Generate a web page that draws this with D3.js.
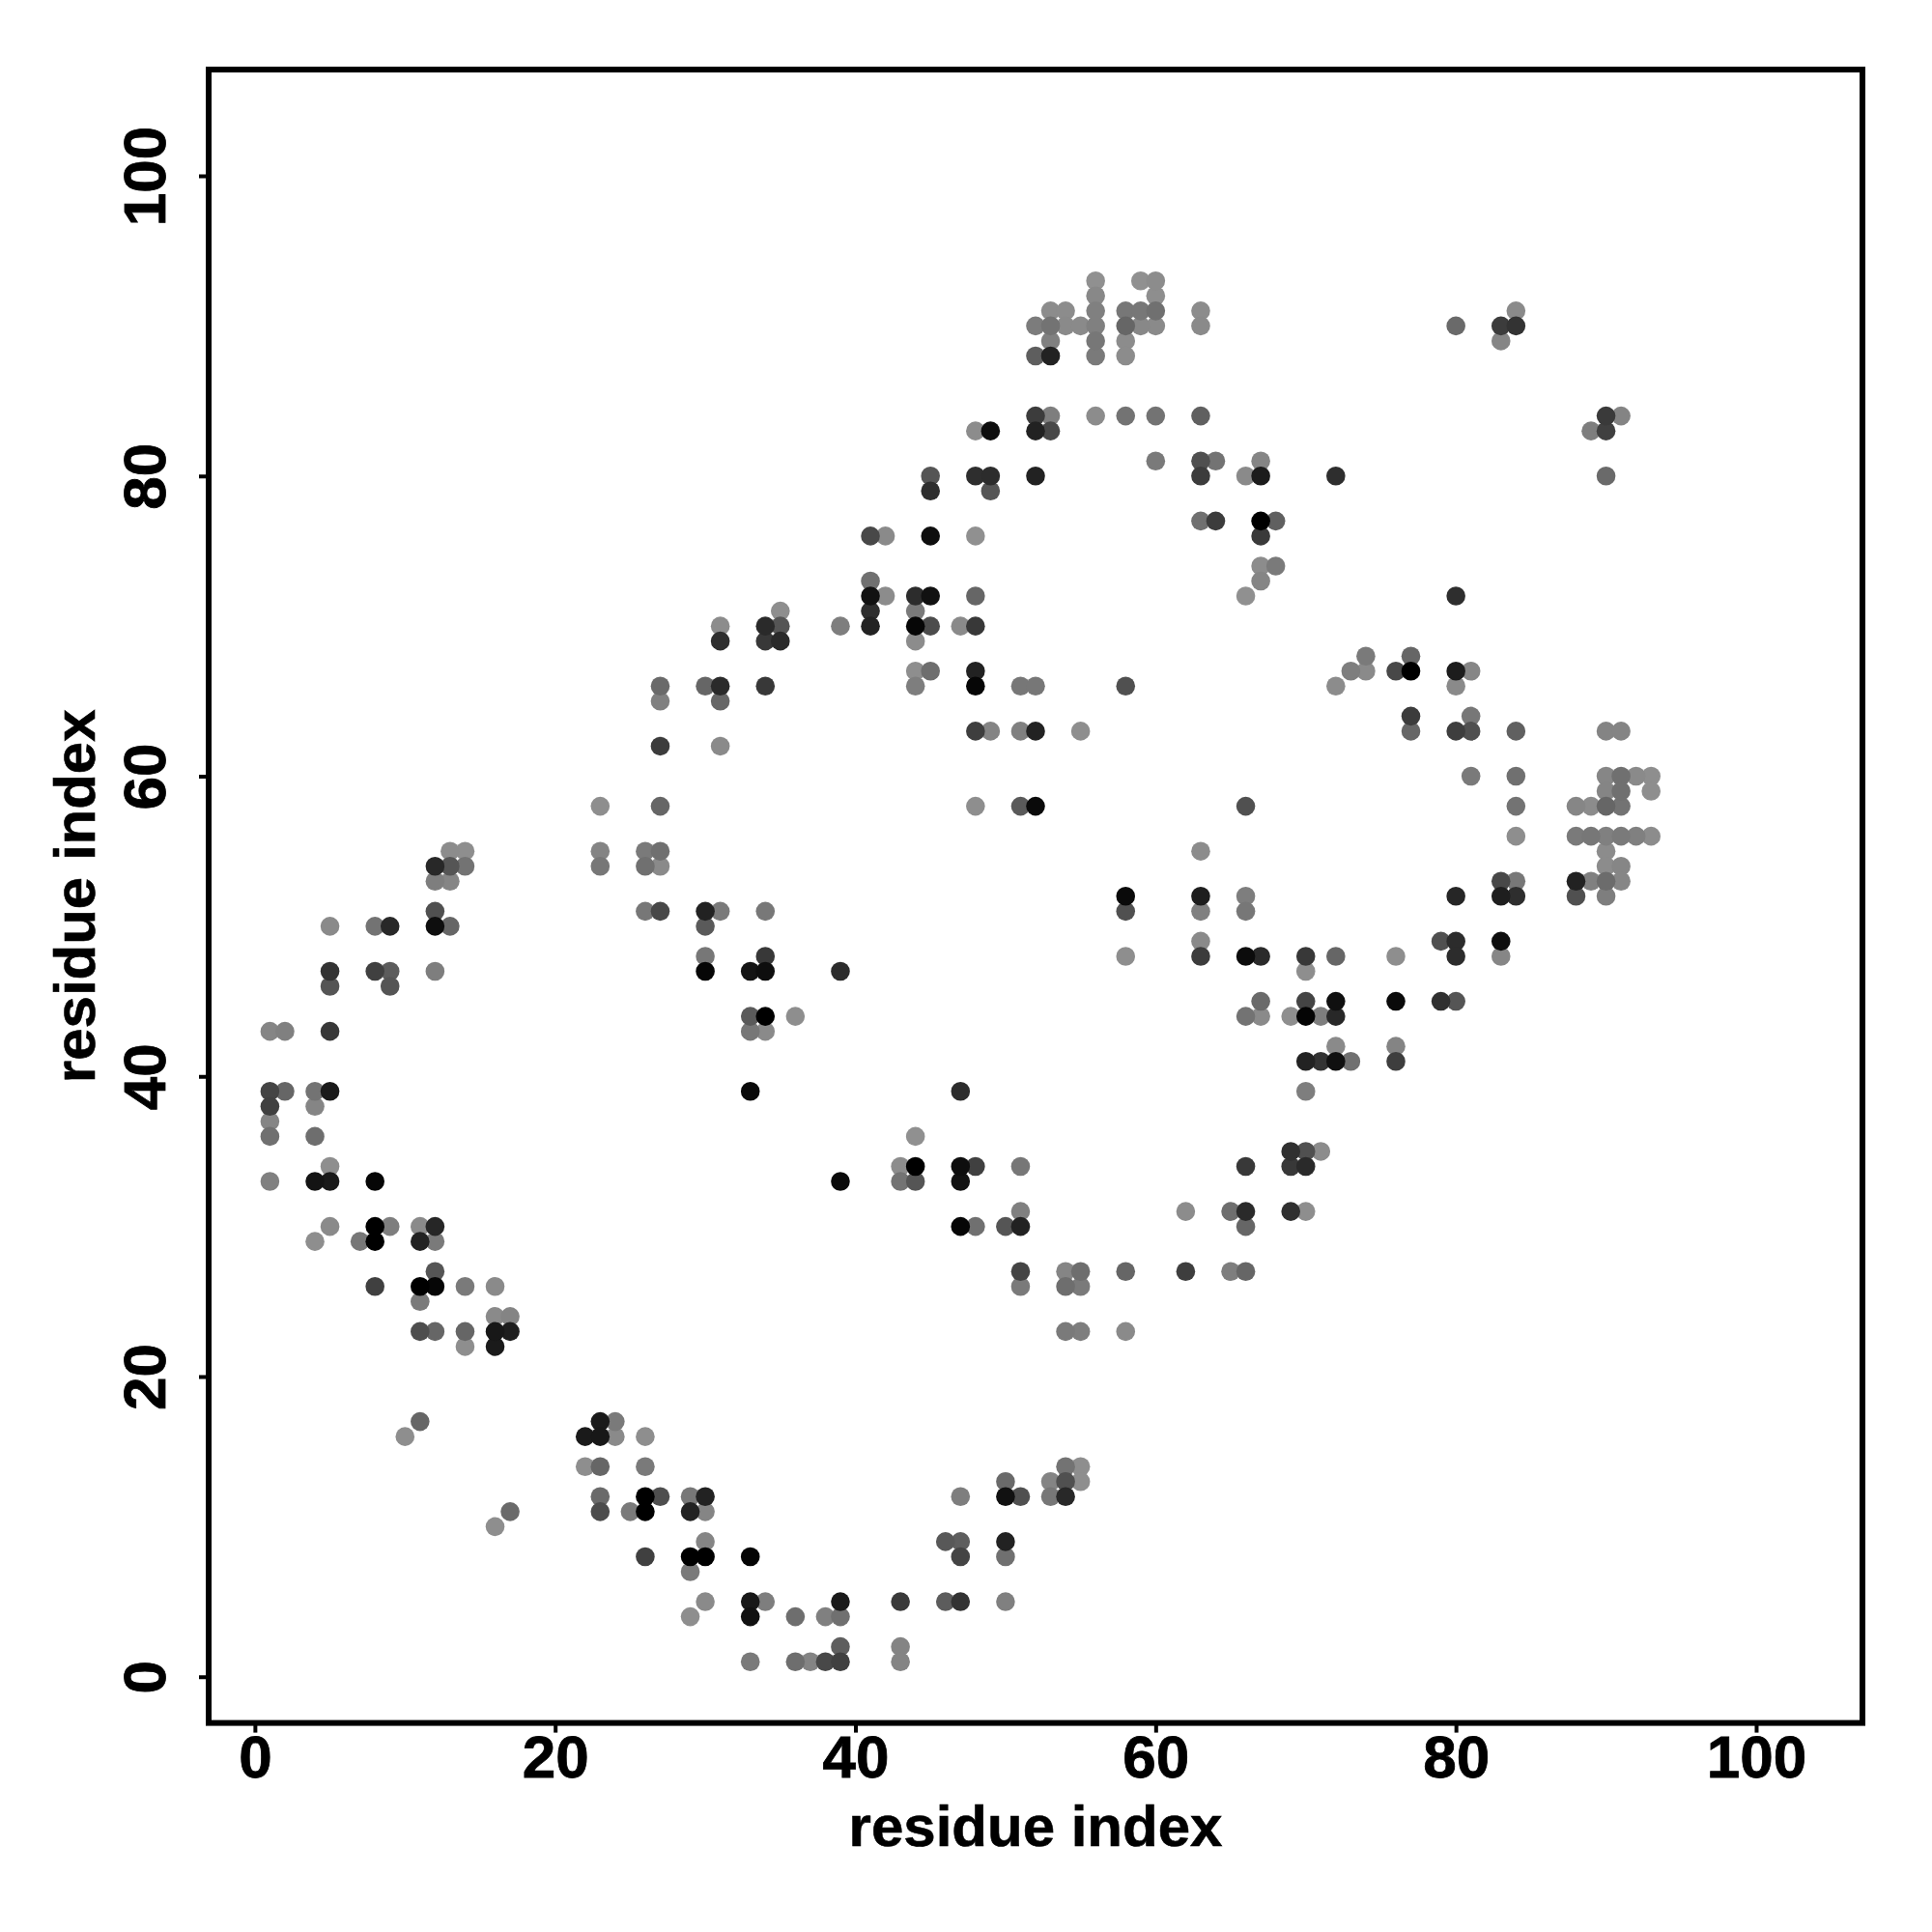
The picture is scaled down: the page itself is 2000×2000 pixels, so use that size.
<!DOCTYPE html>
<html>
<head>
<meta charset="utf-8">
<script src="https://cdn.jsdelivr.net/npm/d3@7/dist/d3.min.js"></script>
<style>html,body{margin:0;padding:0;background:#fff}svg{display:block}</style>
</head>
<body>
<div id="chart"></div>
<script>
const xTicks = [0, 20, 40, 60, 80, 100];
const yTicks = [0, 20, 40, 60, 80, 100];
const axisDomain = [-3.08, 107.08];
const xTitle = "residue index";
const yTitle = "residue index";

const rowY = [93,92,91,90,89,88,84,83,81,80,79,77,76,74,73,72,71,70,69,68,67,66,65,64,63,62,60,59,58,56,55,54,53,52,51,50,49,48,47,46,45,44,43,42,41,39,38,37,36,35,34,33,31,30,29,27,26,25,24,23,22,17,16,14,13,12,11,10,9,8,7,5,4,2,1];

const rowX = [
[56,59,60],
[56,60],
[53,54,56,58,59,60,63,84],
[52,53,54,55,56,58,59,60,63,80,83,84],
[53,56,58,83],
[52,53,56,58],
[52,53,56,58,60,63,90,91],
[48,49,52,53,89,90],
[60,63,64,67],
[45,48,49,52,63,66,67,72,90],
[45,49],
[63,64,67,68],
[41,42,45,48,67],
[67,68],
[41,67],
[41,42,44,45,48,66,80],
[35,41,44],
[31,34,35,39,41,44,45,47,48],
[31,34,35,44],
[74,77],
[44,45,48,73,74,76,77,80,81],
[27,30,31,34,44,48,51,52,58,72,80],
[27,31],
[77,81],
[48,49,51,52,55,77,80,81,84,90,91],
[27,31],
[81,84,90,91,92,93],
[90,91,93],
[23,27,48,51,52,66,84,88,89,90,91],
[84,88,89,90,91,92,93],
[13,14,23,26,27,63,90],
[12,13,14,23,26,27,90,91],
[12,13,83,84,88,89,90,91],
[58,63,66,80,83,84,88,90],
[12,26,27,30,31,34,58,63,66],
[5,8,9,12,13,30],
[63,79,80,83],
[30,34,58,63,66,67,70,72,76,80,83],
[5,8,9,12,30,33,34,39,70],
[5,9],
[67,70,72,76,79,80],
[33,34,36,66,67,69,70,71,72],
[1,2,5,33,34],
[72,76],
[70,71,72,73,76],
[1,2,4,5,33,47,70],
[1,4],
[1],
[1,4,44],
[69,70,71],
[5,43,44,47,48,51,66,69,70],
[1,4,5,8,39,43,44,47],
[51,62,65,66,69,70],
[5,8,9,11,12,47,48,50,51,66],
[4,7,8,11,12],
[12,51,54,55,58,62,65,66],
[8,11,12,14,16,51,54,55],
[11],
[16,17],
[11,12,14,16,17,54,55,58],
[14,16],
[11,23,24],
[10,22,23,24,26],
[22,23,26,54,55],
[50,53,54,55],
[23,26,27,29,30,47,50,51,53,54],
[17,23,25,26,29,30],
[16],
[30,46,47,50],
[26,29,30,33,47,50],
[29],
[30,33,34,39,43,46,47,50],
[29,33,36,38,39],
[39,43],
[33,36,37,38,39,43]
];

const rowShade = [
[0x90,0x90,0x8c],
[0x88,0x8e],
[0x8c,0x8c,0x80,0x77,0x77,0x70,0x8c,0x8a],
[0x7c,0x73,0x8a,0x8a,0x80,0x66,0x88,0x8a,0x8a,0x6a,0x3c,0x33],
[0x80,0x77,0x8c,0x85],
[0x5e,0x22,0x7a,0x8c],
[0x3c,0x7e,0x8c,0x73,0x73,0x60,0x3a,0x84],
[0x8c,0x0e,0x22,0x48,0x7e,0x40],
[0x7a,0x50,0x73,0x85],
[0x55,0x2e,0x2c,0x22,0x3c,0x8a,0x1c,0x2e,0x6a],
[0x2e,0x55],
[0x70,0x3c,0x00,0x60],
[0x48,0x8a,0x0e,0x90,0x3a],
[0x8c,0x7a],
[0x70,0x85],
[0x11,0x8c,0x2c,0x11,0x66,0x90,0x2e],
[0x8e,0x2e,0x7a],
[0x8c,0x2a,0x55,0x7e,0x22,0x06,0x4c,0x8a,0x38],
[0x2e,0x38,0x2a,0x8c],
[0x7a,0x66],
[0x8e,0x6e,0x22,0x7e,0x8a,0x48,0x00,0x1c,0x86],
[0x6a,0x66,0x2a,0x38,0x7e,0x06,0x77,0x77,0x50,0x8c,0x8a],
[0x80,0x66],
[0x3c,0x77],
[0x3e,0x84,0x80,0x22,0x8e,0x66,0x3e,0x50,0x60,0x84,0x84],
[0x3c,0x8a],
[0x7a,0x70,0x86,0x70,0x8a,0x8e],
[0x85,0x70,0x8e],
[0x8e,0x66,0x8e,0x5a,0x0a,0x50,0x73,0x86,0x8c,0x66,0x73],
[0x8e,0x7a,0x77,0x80,0x7a,0x80,0x8c],
[0x8c,0x8e,0x84,0x7a,0x70,0x8c,0x8c],
[0x28,0x55,0x73,0x77,0x70,0x8a,0x8c,0x86],
[0x7e,0x85,0x48,0x78,0x22,0x80,0x6c,0x86],
[0x0a,0x1e,0x7e,0x26,0x1e,0x2e,0x50,0x7e],
[0x50,0x77,0x48,0x22,0x7a,0x78,0x50,0x80,0x77],
[0x8a,0x73,0x28,0x0e,0x66,0x5a],
[0x8a,0x50,0x2c,0x0e],
[0x77,0x38,0x8e,0x3c,0x0c,0x2a,0x38,0x66,0x8e,0x2c,0x86],
[0x33,0x40,0x5c,0x7e,0x06,0x14,0x0e,0x2c,0x8e],
[0x55,0x55],
[0x6a,0x44,0x10,0x0a,0x30,0x55],
[0x5a,0x00,0x8e,0x73,0x8a,0x8e,0x04,0x7e,0x28],
[0x85,0x80,0x38,0x77,0x8a],
[0x8a,0x84],
[0x22,0x33,0x10,0x70,0x3e],
[0x44,0x66,0x73,0x1a,0x0a,0x2c,0x7e],
[0x40,0x85],
[0x85],
[0x70,0x6e,0x90],
[0x30,0x50,0x8c],
[0x8e,0x8c,0x00,0x0e,0x40,0x77,0x38,0x38,0x2a],
[0x80,0x14,0x1a,0x06,0x0a,0x73,0x55,0x12],
[0x80,0x8c,0x6e,0x2a,0x30,0x8e],
[0x8a,0x00,0x7e,0x8a,0x26,0x06,0x70,0x55,0x22,0x66],
[0x8e,0x77,0x00,0x22,0x7a],
[0x55,0x44,0x85,0x6e,0x66,0x3e,0x7e,0x66],
[0x40,0x00,0x06,0x7a,0x8a,0x7a,0x6e,0x7a],
[0x7a],
[0x8a,0x84],
[0x4e,0x66,0x66,0x18,0x1e,0x7a,0x7e,0x8a],
[0x8e,0x1a],
[0x66,0x1a,0x7a],
[0x8e,0x1a,0x18,0x8a,0x8e],
[0x8e,0x66,0x7a,0x73,0x8e],
[0x6a,0x84,0x50,0x8e],
[0x6a,0x00,0x4e,0x77,0x22,0x7e,0x11,0x50,0x77,0x28],
[0x6a,0x4c,0x7a,0x00,0x22,0x85],
[0x8e],
[0x85,0x58,0x5e,0x22],
[0x40,0x00,0x00,0x04,0x44,0x70],
[0x7a],
[0x8a,0x18,0x7e,0x1a,0x3a,0x5c,0x33,0x80],
[0x8e,0x11,0x6e,0x80,0x70],
[0x5e,0x84],
[0x7a,0x6e,0x84,0x48,0x40,0x84]
];

const points = rowY.flatMap((yv, r) => rowX[r].map((xv, c) => ({x: xv, y: yv, shade: rowShade[r][c]})))
  .sort((a, b) => d3.descending(a.shade, b.shade));

const FONT = "'Liberation Sans', Arial, sans-serif";
const W = 2000, H = 2000;
const plotLeft = 216, plotRight = 1928, plotTop = 72, plotBottom = 1783.6;
const xScale = d3.scaleLinear().domain(axisDomain).range([plotLeft, plotRight]);
const yScale = d3.scaleLinear().domain(axisDomain).range([plotBottom, plotTop]);
const grey = d3.scaleLinear().domain([0, 255]).range(["#000000", "#ffffff"]);

const svg = d3.select("#chart").append("svg").attr("width", W).attr("height", H);
svg.append("rect").attr("width", W).attr("height", H).attr("fill", "#fff");

svg.append("g").selectAll("circle").data(points).join("circle")
  .attr("cx", d => xScale(d.x)).attr("cy", d => yScale(d.y)).attr("r", 9.8)
  .attr("fill", d => grey(d.shade));

const gx = svg.append("g").attr("transform", `translate(0,${plotBottom})`)
  .call(d3.axisBottom(xScale).tickValues(xTicks).tickFormat(d3.format("d")).tickSize(10).tickSizeOuter(0));
const gy = svg.append("g").attr("transform", `translate(${plotLeft},0)`)
  .call(d3.axisLeft(yScale).tickValues(yTicks).tickFormat(d3.format("d")).tickSize(10).tickSizeOuter(0));
[gx, gy].forEach(g => {
  g.select(".domain").remove();
  g.selectAll("line").attr("stroke", "#000").attr("stroke-width", 4);
  g.selectAll("text").attr("font-family", FONT).attr("font-size", 62).attr("font-weight", 700)
    .attr("fill", "#000").attr("stroke", "#000").attr("stroke-width", 0.8);
});
gx.selectAll("text").attr("y", 56.4).attr("dy", 0).attr("text-anchor", "middle");
gy.selectAll("text").attr("x", 0).attr("y", 0).attr("dy", 0).attr("text-anchor", "middle")
  .attr("transform", "translate(-45,0) rotate(-90)");

svg.append("rect").attr("x", plotLeft).attr("y", plotTop)
  .attr("width", plotRight - plotLeft).attr("height", plotBottom - plotTop)
  .attr("fill", "none").attr("stroke", "#000").attr("stroke-width", 6);

svg.append("text").attr("x", (plotLeft + plotRight) / 2).attr("y", 1911)
  .attr("text-anchor", "middle").attr("font-family", FONT).attr("font-size", 60).attr("font-weight", 700)
  .attr("stroke", "#000").attr("stroke-width", 0.6)
  .text(xTitle);
svg.append("text").attr("transform", `translate(98,${(plotTop + plotBottom) / 2}) rotate(-90)`)
  .attr("text-anchor", "middle").attr("font-family", FONT).attr("font-size", 60).attr("font-weight", 700)
  .attr("stroke", "#000").attr("stroke-width", 0.6)
  .text(yTitle);
</script>
</body>
</html>
